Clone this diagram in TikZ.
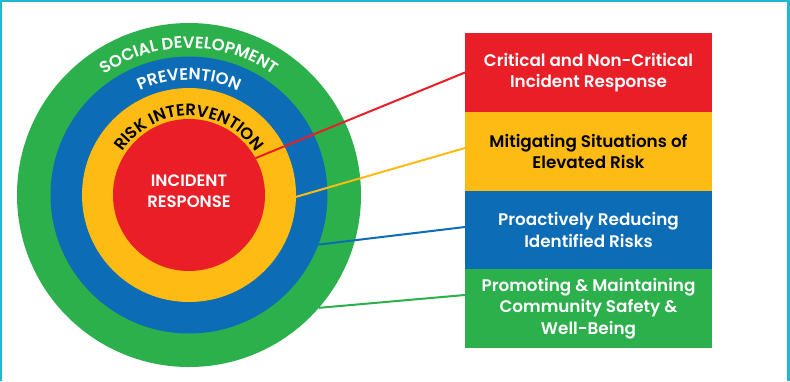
\documentclass[tikz,border=0pt]{standalone}
\usepackage{fontspec}
\setmainfont{Poppins}[BoldFont={Poppins SemiBold}]
\usetikzlibrary{decorations.text,calc}
\definecolor{cred}{HTML}{E91E27}
\definecolor{cyel}{HTML}{FDBB14}
\definecolor{cblu}{HTML}{0C6CB6}
\definecolor{cgrn}{HTML}{2BB04C}
\definecolor{ccyan}{HTML}{1FB8D2}
\begin{document}
\begin{tikzpicture}[x=1pt,y=1pt,
  ring/.style={circle,inner sep=0pt,outer sep=0pt,draw=none},
  boxnode/.style={rectangle,inner sep=0pt,outer sep=0pt,minimum width=247pt,minimum height=78.75pt,align=center,font=\fontsize{16.8}{21.5}\selectfont\bfseries},
  link/.style={line width=2pt},
  arctext/.style={decorate,decoration={text along path,text align=center,text color=#1}}
]
\useasboundingbox (0,0) rectangle (790,-381);
\fill[white] (0,0) rectangle (790,-381);
\draw[ccyan,line width=2.5pt] (1,-381) -- (1,-1) -- (788.5,-1) -- (788.5,-381);

\coordinate (c) at (189,-195);
\node[ring,fill=cgrn,minimum size=344pt] (gc) at (c) {};
\node[ring,fill=cblu,minimum size=277pt] (bc) at (c) {};
\node[ring,fill=cyel,minimum size=214pt] (yc) at (c) {};
\node[ring,fill=cred,minimum size=152pt] (rc) at (c) {};
\node[text=white,align=center,font=\fontsize{16.5}{20.5}\selectfont\bfseries] (irtext) at (189,-191) {INCIDENT\\RESPONSE};

\path[arctext=white,decoration={text={|\fontsize{16.5}{17}\selectfont\bfseries|SOCIAL DEVELOPMENT}}]
  ($(c)+(180:147)$) arc[start angle=180,end angle=0,radius=147];
\path[arctext=white,decoration={text={|\fontsize{16.5}{17}\selectfont\bfseries|PREVENTION}}]
  ($(c)+(180:115)$) arc[start angle=180,end angle=0,radius=115];
\path[arctext=black,decoration={text={|\fontsize{16.5}{17}\selectfont\bfseries|RISK INTERVENTION}}]
  ($(c)+(180:79)$) arc[start angle=180,end angle=0,radius=79];

\node[boxnode,fill=cred,text=white] (b1) at (588.5,-72.5) {Critical and Non-Critical\\Incident Response};
\node[boxnode,fill=cyel,text=black] (b2) at (588.5,-151.5) {Mitigating Situations of\\Elevated Risk};
\node[boxnode,fill=cblu,text=white] (b3) at (588.5,-230) {Proactively Reducing\\Identified Risks};
\node[boxnode,fill=cgrn,text=white] (b4) at (588.5,-308.5) {Promoting \& Maintaining\\Community Safety \&\\Well-Being};

\draw[link,cred] (rc.29) -- (b1.west);
\draw[link,cyel] (yc.-1) -- ([yshift=3.5pt]b2.west);
\draw[link,cblu] (bc.-21) -- ([yshift=3pt]b3.west);
\draw[link,cgrn] (gc.-41) -- ([yshift=13.5pt]b4.west);
\end{tikzpicture}
\end{document}
